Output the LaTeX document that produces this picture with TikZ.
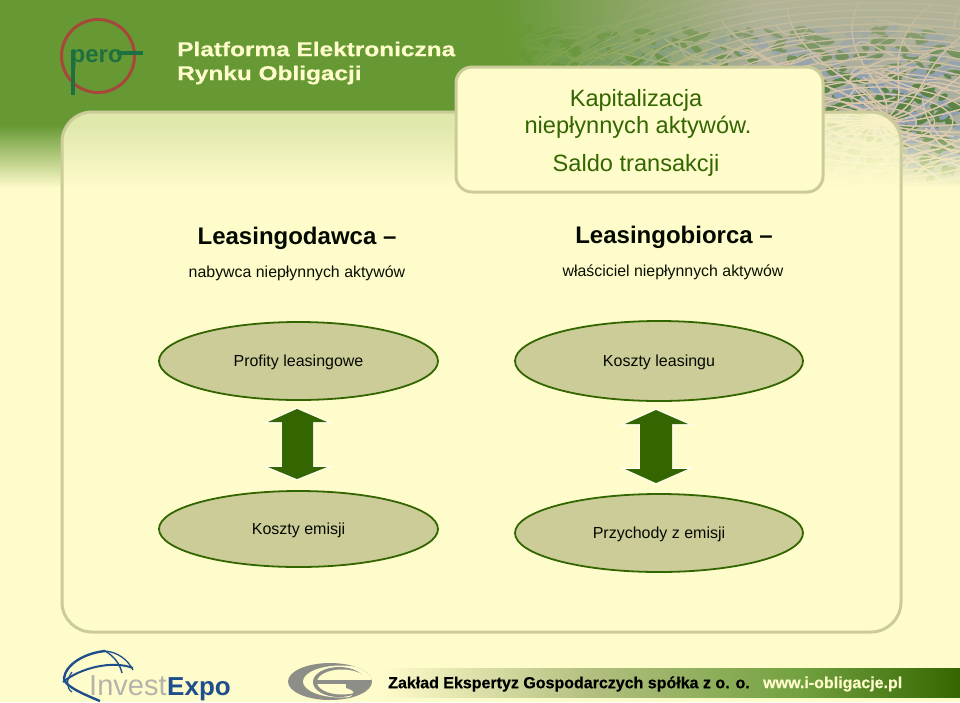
\documentclass[tikz,border=0pt]{standalone}
\usepackage{fontspec}
\setmainfont{Liberation Sans}
\newfontfamily\heavyfont[BoldFeatures={FakeBold=0.5}]{Liberation Sans}
\usetikzlibrary{fadings,shapes.geometric}
\definecolor{cream}{HTML}{FFFCCB}
\definecolor{hgreen}{HTML}{669933}
\definecolor{dgreen}{HTML}{336600}
\definecolor{bord}{HTML}{CCCC99}
\definecolor{khaki}{HTML}{CCCC99}
\definecolor{haze}{HTML}{B5B596}
\definecolor{cellA}{HTML}{5A8446}
\definecolor{cellB}{HTML}{8E9FB4}
\definecolor{lnc}{HTML}{D9C6AC}
\definecolor{pred}{HTML}{A5483A}
\definecolor{pgreen}{HTML}{1F7040}
\definecolor{iblue}{HTML}{1F4E8C}
\definecolor{igrey}{HTML}{B4B4AC}
\definecolor{eggrey}{HTML}{8E8E88}
\tikzfading[name=fadeR, left color=transparent!0, right color=transparent!100]
\tikzfading[name=fadeB, top color=transparent!100, bottom color=transparent!0]
\tikzfading[name=fadeT, top color=transparent!0, bottom color=transparent!100]
\tikzset{
  panelbox/.style={draw=bord, line width=3pt, rounded corners=30pt},
  oval/.style={ellipse, draw=dgreen, line width=1.8pt, fill=khaki, inner sep=0pt, font=\fontsize{16}{19}\selectfont, text=black!90!dgreen, text height=13pt, text depth=3pt},
  dblarrow/.style={fill=dgreen, draw=none},
  glow/.style={draw=white, line width=2.5pt, line join=miter, opacity=.75},
  head/.style={font=\bfseries\fontsize{24}{28}\selectfont, text=black!90!dgreen, inner sep=0pt},
  sub/.style={font=\fontsize{15.9}{19}\selectfont, text=black!85!dgreen, inner sep=0pt},
  capt/.style={font=\fontsize{23.6}{28}\selectfont, text=dgreen, inner sep=0pt},
  foot/.style={font=\heavyfont\bfseries\fontsize{16}{20}\selectfont, inner sep=0pt, anchor=west},
  title/.style={font=\heavyfont\bfseries\fontsize{20}{24}\selectfont, text=cream, anchor=west, inner sep=0pt, xscale=1.22},
}
\begin{document}
\begin{tikzpicture}[x=1pt,y=-1pt]
\useasboundingbox (0,0) rectangle (960,702);
% background
\fill[cream] (0,0) rectangle (960,702);
\fill[hgreen] (0,0) rectangle (960,192);
% texture
\begin{scope}
\clip (520,0) rectangle (960,192);
\fill[haze!70!cellB] (520,0) rectangle (960,192);
\pgfmathsetseed{4217}
\foreach \i in {1,...,900}{
  \pgfmathsetmacro{\xx}{520+440*rnd}
  \pgfmathsetmacro{\yy}{30+162*rnd}
  \pgfmathsetmacro{\rx}{4+7*rnd}
  \pgfmathsetmacro{\ry}{1.5+3*rnd}
  \pgfmathsetmacro{\ang}{-35+70*rnd}
  \pgfmathparse{rnd<0.5?"cellA":"cellB"}
  \fill[\pgfmathresult, rotate around={\ang:(\xx,\yy)}] (\xx,\yy) ellipse [x radius=\rx, y radius=\ry];
}
\foreach \i in {1,...,130}{
  \pgfmathsetmacro{\xa}{500+480*rnd}
  \pgfmathsetmacro{\ya}{20+175*rnd}
  \pgfmathsetmacro{\xb}{\xa+20*rnd}
  \pgfmathsetmacro{\yb}{\ya-25+50*rnd}
  \pgfmathsetmacro{\xc}{\xb+20*rnd}
  \pgfmathsetmacro{\yc}{\yb-25+50*rnd}
  \pgfmathsetmacro{\xd}{\xc+20+25*rnd}
  \pgfmathsetmacro{\yd}{\yc-12+24*rnd}
  \draw[lnc, line width=1.4pt] (\xa,\ya) .. controls (\xb,\yb) and (\xc,\yc) .. (\xd,\yd);
}
\foreach \a in {0,14,...,346}{
  \draw[lnc, line width=1.5pt] (880,122) .. controls ({880+70*cos(\a+30)},{122+30*sin(\a+30)}) and ({880+160*cos(\a-15)},{122+65*sin(\a-15)}) .. ({880+300*cos(\a)},{122+120*sin(\a)});
}
\foreach \r in {14,28,...,280}{
  \draw[lnc, line width=1.3pt] (880,122) ellipse [x radius=\r*1.3, y radius=\r*0.5];
}
\end{scope}
\fill[haze, path fading=fadeT, opacity=.85] (500,0) rectangle (960,85);
\fill[hgreen, path fading=fadeR] (500,-2) rectangle (760,194);
\fill[hgreen] (0,0) rectangle (500,192);
% lower fade of header
\fill[cream, path fading=fadeB] (-2,125) rectangle (962,188);
\fill[cream] (-2,187) rectangle (962,194);
% main panel
\path[panelbox, fill=cream, fill opacity=.8] (62,112) rectangle (901,632);
% caption box
\path[panelbox, rounded corners=16pt, fill=cream] (456,67) rectangle (823,192);
\node[capt] (c1) at (636,100) {Kapitalizacja};
\node[capt] (c2) at (638,127) {niepłynnych aktywów.};
\node[capt] (c3) at (636,165) {Saldo transakcji};
% header texts
\node[title] (t1) at (177,49) {Platforma Elektroniczna};
\node[title] (t2) at (177,75) {Rynku Obligacji};
% pero logo
\draw[pred, line width=3pt] (98,56) circle (36.5);
\node[font=\bfseries\fontsize{24}{26}\selectfont, text=pgreen, anchor=base west, inner sep=0pt] (pero) at (70.5,62) {pero};
\fill[pgreen] (71,50) rectangle (75,95);
\fill[pgreen] (117,50.5) rectangle (143,54.5);
% column headings
\node[head] (l1) at (297,238) {Leasingodawca –};
\node[sub] (l2) at (297,273) {nabywca niepłynnych aktywów};
\node[head] (r1) at (674,237) {Leasingobiorca –};
\node[sub] (r2) at (673,272) {właściciel niepłynnych aktywów};
% ovals
\node[oval, minimum width=279pt, minimum height=78pt] (a) at (298.5,361) {Profity leasingowe};
\node[oval, minimum width=288pt, minimum height=80pt] (b) at (659,361) {Koszty leasingu};
\node[oval, minimum width=279pt, minimum height=76pt] (c) at (298.5,529) {Koszty emisji};
\node[oval, minimum width=288pt, minimum height=78pt] (d) at (659,533) {Przychody z emisji};
% arrows
\draw[glow] (297,409) -- (327,422) -- (313,422) -- (313,467) -- (327,467) -- (297,479) -- (268,467) -- (282,467) -- (282,422) -- (268,422) -- cycle;
\fill[dblarrow] (297,409) -- (327,422) -- (313,422) -- (313,467) -- (327,467) -- (297,479) -- (268,467) -- (282,467) -- (282,422) -- (268,422) -- cycle;
\draw[glow] (656,410) -- (688,424) -- (672,424) -- (672,469) -- (688,469) -- (656,483) -- (625,469) -- (640,469) -- (640,424) -- (625,424) -- cycle;
\fill[dblarrow] (656,410) -- (688,424) -- (672,424) -- (672,469) -- (688,469) -- (656,483) -- (625,469) -- (640,469) -- (640,424) -- (625,424) -- cycle;
% footer strip
\shade[left color=cream, right color=hgreen!92!cream, middle color=khaki!75!hgreen] (382,668) rectangle (800,697);
\shade[left color=hgreen!92!cream, right color=dgreen] (800,668) rectangle (960,697);
\node[foot, text=black] (f1) at (388,684) {Zakład Ekspertyz Gospodarczych spółka z o. o.};
\node[foot, text=cream] (f2) at (763,684) {www.i-obligacje.pl};
% InvestExpo logo
\node[font=\heavyfont\fontsize{29}{34}\selectfont, text=igrey, anchor=base west, inner sep=0pt] (inv) at (89,695) {Invest};
\node[font=\bfseries\fontsize{26}{34}\selectfont, text=iblue, anchor=base west, inner sep=0pt] (exp) at (167,695) {Expo};
\draw[iblue, line width=2.4pt] (100,701) .. controls (78,692) and (64,685) .. (64,678) .. controls (66,664) and (85,653) .. (105,651);
\draw[iblue, line width=1.3pt] (105,651) .. controls (118,652) and (128,660) .. (133,670);
\draw[iblue, line width=2pt] (63,682) .. controls (80,668) and (112,660) .. (133,668);
\draw[iblue, line width=1.4pt] (105,651) .. controls (114,656) and (120,664) .. (122,673);
\draw[iblue, line width=1.2pt] (72,672) .. controls (66,680) and (66,688) .. (72,692);
% EG logo
\begin{scope}
\clip (330,681.5) ellipse [x radius=42, y radius=18.5];
\fill[eggrey] (330,681.5) ellipse [x radius=42, y radius=18.5];
\fill[cream] (341,681.5) ellipse [x radius=38, y radius=16];
\fill[eggrey] (339,682) ellipse [x radius=26, y radius=15];
\fill[cream] (342,682) ellipse [x radius=25, y radius=12.5];
\fill[eggrey] (313,680) rectangle (372,684);
\fill[eggrey] (346,684) -- (372,684) -- (372,700) -- (344,700) .. controls (354,696) and (358,691) .. (346,688) -- cycle;
\end{scope}
\end{tikzpicture}
\end{document}
